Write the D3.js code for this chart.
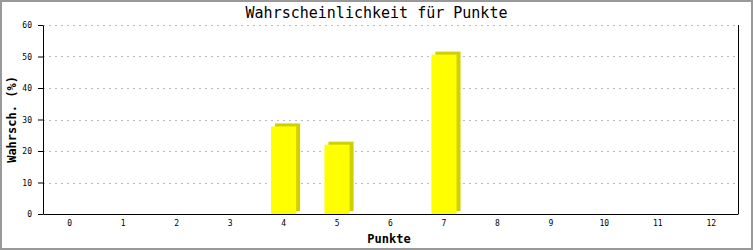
<!DOCTYPE html>
<html>
<head>
<meta charset="utf-8">
<script src="https://cdn.jsdelivr.net/npm/d3@7"></script>
<style>
  body { margin: 0; background: #fff; }
  svg { display: block; }
  text { font-family: "DejaVu Sans Mono", "Liberation Mono", monospace; }
</style>
</head>
<body>
<svg id="chart" width="753" height="250"></svg>
<script>
// Punkte (x categories)
const punkte = ['0', '1', '2', '3', '4', '5', '6', '7', '8', '9', '10', '11', '12']
// Wahrscheinlichkeit in %
const wahrsch = [0, 0, 0, 0, 27.8, 22.0, 0, 50.6, 0, 0, 0, 0, 0]
const yTicks = [0, 10, 20, 30, 40, 50, 60]

const width = 753
const height = 250
const margin = { top: 25, right: 15, bottom: 36, left: 43 }
const plotW = width - margin.left - margin.right
const plotH = height - margin.top - margin.bottom

const svg = d3.select('#chart')

// outer frame
svg.append('rect')
  .attr('x', 1).attr('y', 1)
  .attr('width', width - 2).attr('height', height - 2)
  .attr('fill', '#fff')
  .attr('stroke', '#999')
  .attr('stroke-width', 2)

const g = svg.append('g')
  .attr('transform', 'translate(' + margin.left + ',' + margin.top + ')')

const x = d3.scaleBand()
  .domain(punkte)
  .range([0, plotW])

const y = d3.scaleLinear()
  .domain([0, 60])
  .range([plotH, 0])

// grid lines
g.append('g')
  .selectAll('line')
  .data(yTicks.filter(d => d > 0))
  .join('line')
  .attr('x1', 0).attr('x2', plotW)
  .attr('y1', d => Math.round(y(d)) + 0.5)
  .attr('y2', d => Math.round(y(d)) + 0.5)
  .attr('stroke', '#bbb')
  .attr('stroke-dasharray', '2,4')

// bars with shadow
const barW = x.bandwidth() * 0.47
const dx = 4
const dy = 3
const bars = g.append('g')
  .selectAll('g')
  .data(punkte.map((p, i) => ({ p, v: wahrsch[i] })).filter(d => d.v > 0))
  .join('g')

bars.append('rect')
  .attr('x', d => x(d.p) + (x.bandwidth() - barW) / 2 + dx)
  .attr('y', d => y(d.v) - dy)
  .attr('width', barW)
  .attr('height', d => plotH - y(d.v))
  .attr('fill', '#d0d000')

bars.append('rect')
  .attr('x', d => x(d.p) + (x.bandwidth() - barW) / 2)
  .attr('y', d => y(d.v))
  .attr('width', barW)
  .attr('height', d => plotH - y(d.v))
  .attr('fill', '#ffff00')

// axes
const yAxis = g.append('g')
  .attr('class', 'y-axis')
  .call(d3.axisLeft(y).tickValues(yTicks).tickSize(5).tickPadding(6).tickSizeOuter(0))
yAxis.select('.domain').attr('stroke', '#000')
yAxis.selectAll('text').attr('font-size', 8).attr('fill', '#000')

const xAxis = g.append('g')
  .attr('class', 'x-axis')
  .attr('transform', 'translate(0,' + plotH + ')')
  .call(d3.axisBottom(x).tickSize(0).tickPadding(6).tickSizeOuter(0))
xAxis.select('.domain').attr('stroke', '#000')
xAxis.selectAll('text').attr('font-size', 8).attr('fill', '#000')

// right border line
g.append('line')
  .attr('x1', plotW + 0.5).attr('x2', plotW + 0.5)
  .attr('y1', 0).attr('y2', plotH)
  .attr('stroke', '#000')

// title
svg.append('text')
  .attr('x', width / 2)
  .attr('y', 18)
  .attr('text-anchor', 'middle')
  .attr('font-size', 15)
  .text('Wahrscheinlichkeit für Punkte')

// axis titles
svg.append('text')
  .attr('x', 389)
  .attr('y', 243)
  .attr('text-anchor', 'middle')
  .attr('font-size', 12)
  .attr('font-weight', 'bold')
  .text('Punkte')

svg.append('text')
  .attr('transform', 'translate(16,' + (margin.top + plotH / 2) + ') rotate(-90)')
  .attr('text-anchor', 'middle')
  .attr('font-size', 12)
  .attr('font-weight', 'bold')
  .text('Wahrsch. (%)')
</script>
</body>
</html>
